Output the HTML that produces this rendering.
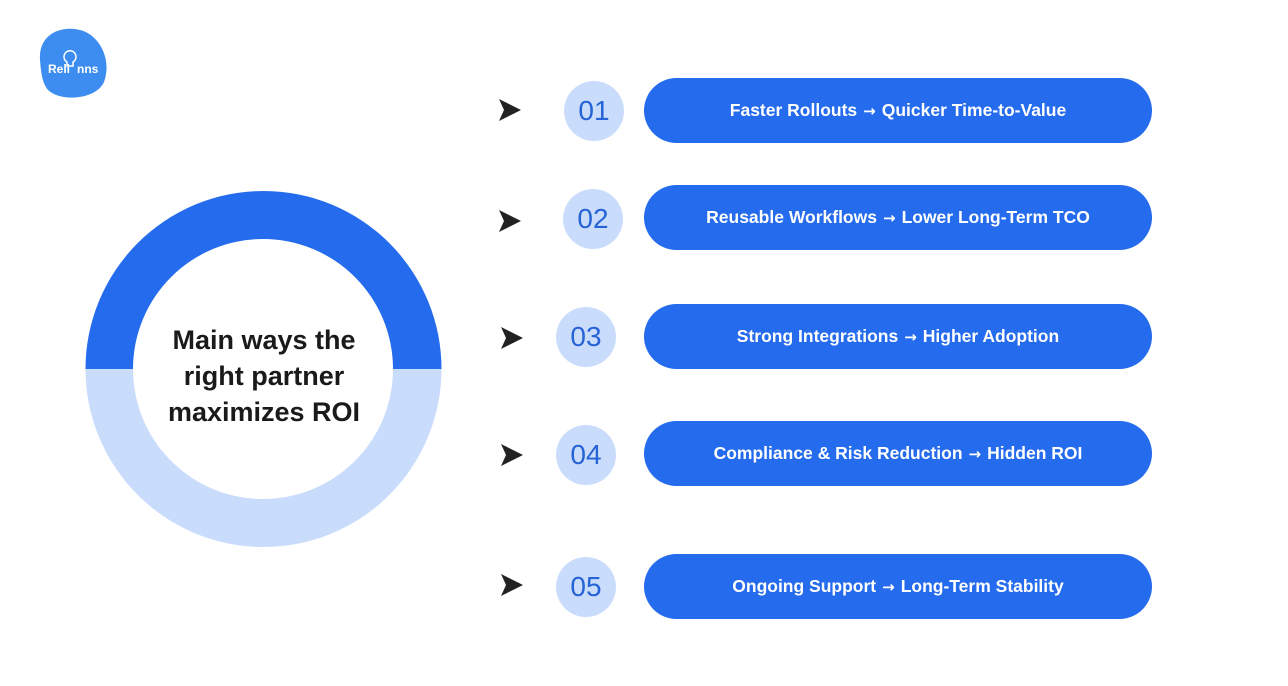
<!DOCTYPE html>
<html><head><meta charset="utf-8"><style>
body{margin:0;width:1288px;height:686px;background:#fff;position:relative;overflow:hidden;font-family:"Liberation Sans",sans-serif}
.a{position:absolute}
.pill{position:absolute;left:644px;width:508px;height:65px;border-radius:33px;background:#256bed;color:#fff;font-weight:bold;font-size:17.5px;display:flex;align-items:center;justify-content:center;white-space:nowrap}
.pill b{font-family:"DejaVu Sans",sans-serif;font-size:15px;margin:0 6px}
.num{position:absolute;width:60px;height:60px;border-radius:50%;background:#cadcfb;color:#2563d6;font-size:28px;display:flex;align-items:center;justify-content:center}
.arr{position:absolute;width:24px;height:24px}
</style></head><body>
<svg class="a" style="left:0;top:0" width="1288" height="686">
<path d="M40 60 C38 35 60 25 80 30 C100 35 112 60 104 82 C96 100 60 102 48 90 C42 83 41 72 40 60Z" fill="#3d8df0"/>
<text x="48" y="73" font-family="Liberation Sans" font-weight="bold" font-size="12" fill="#fff">Reli</text>
<text x="77" y="73" font-family="Liberation Sans" font-weight="bold" font-size="12" fill="#fff">nns</text>
<path d="M67 62 a6 6 0 1 1 6 0 v4 h-6z" fill="none" stroke="#fff" stroke-width="1.5"/>
<path d="M85.5 369 A178 178 0 0 1 441.5 369 Z" fill="#256bed"/>
<path d="M85.5 369 A178 178 0 0 0 441.5 369 Z" fill="#c9dcfb"/>
<circle cx="263" cy="369" r="130" fill="#fff"/>
<text font-family="Liberation Sans" font-weight="bold" font-size="27" fill="#1a1a1a" text-anchor="middle"><tspan x="264" y="349">Main ways the</tspan><tspan x="264" y="385">right partner</tspan><tspan x="264" y="421">maximizes ROI</tspan></text>
</svg>
<svg class="arr" style="left:498px;top:98px" viewBox="0 0 24 24"><path d="M1 1 L23 12 L1 23 L6 12Z" fill="#222"/></svg>
<div class="num" style="left:564px;top:81px">01</div>
<div class="pill" style="top:78px">Faster Rollouts<b>→</b>Quicker Time-to-Value</div>
<svg class="arr" style="left:498px;top:209px" viewBox="0 0 24 24"><path d="M1 1 L23 12 L1 23 L6 12Z" fill="#222"/></svg>
<div class="num" style="left:563px;top:189px">02</div>
<div class="pill" style="top:185px">Reusable Workflows<b>→</b>Lower Long-Term TCO</div>
<svg class="arr" style="left:500px;top:326px" viewBox="0 0 24 24"><path d="M1 1 L23 12 L1 23 L6 12Z" fill="#222"/></svg>
<div class="num" style="left:556px;top:307px">03</div>
<div class="pill" style="top:304px">Strong Integrations<b>→</b>Higher Adoption</div>
<svg class="arr" style="left:500px;top:443px" viewBox="0 0 24 24"><path d="M1 1 L23 12 L1 23 L6 12Z" fill="#222"/></svg>
<div class="num" style="left:556px;top:425px">04</div>
<div class="pill" style="top:421px">Compliance &amp; Risk Reduction<b>→</b>Hidden ROI</div>
<svg class="arr" style="left:500px;top:573px" viewBox="0 0 24 24"><path d="M1 1 L23 12 L1 23 L6 12Z" fill="#222"/></svg>
<div class="num" style="left:556px;top:557px">05</div>
<div class="pill" style="top:554px">Ongoing Support<b>→</b>Long-Term Stability</div>
</body></html>
